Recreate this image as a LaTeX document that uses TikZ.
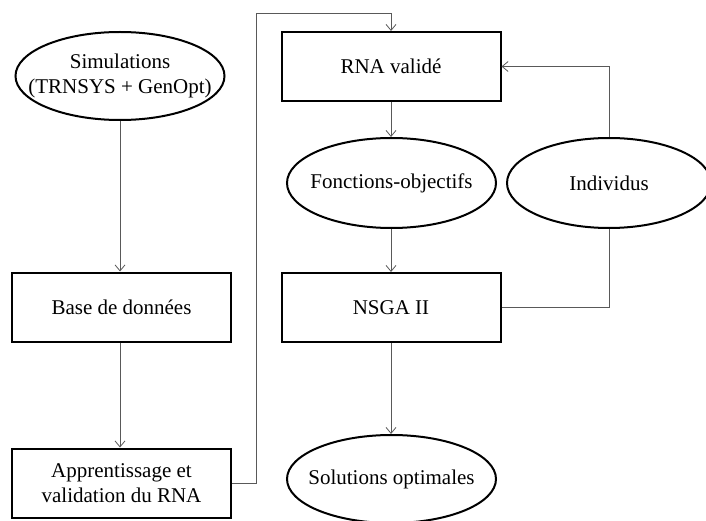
\documentclass[tikz,border=0pt]{standalone}
\usepackage{fontspec}
\setmainfont{Liberation Serif}
\usetikzlibrary{shapes.geometric,arrows.meta}
\begin{document}
\begin{tikzpicture}[x=1pt,y=-1pt,
  txt/.style={align=center,font=\fontsize{21}{25}\selectfont,inner sep=0pt},
  box/.style={txt,draw,line width=2pt,minimum width=219pt,minimum height=69pt},
  oval/.style={draw,ellipse,line width=2pt,minimum width=209pt,minimum height=88pt,inner sep=0pt},
  conn/.style={draw=black!65,line width=0.8pt,-{Straight Barb[length=6pt,width=10pt,line width=0.8pt]}},
  plain/.style={draw=black!65,line width=0.8pt}]
\useasboundingbox (0,0) rectangle (706,521);
\node[oval] (sim) at (120,76) {};
\node[txt] (simt) at (sim) {Simulations\\(TRNSYS + GenOpt)};
\node[box] (base) at (121.5,307) {Base de données};
\node[box] (app) at (121.5,483) {Apprentissage et\\validation du RNA};
\node[box] (rna) at (391,66.5) {RNA validé};
\node[oval,minimum height=90pt] (fon) at (391.5,183) {};
\node[txt] (font) at (fon) {Fonctions-objectifs};
\node[oval,minimum width=204pt,minimum height=90pt] (ind) at (609,183) {};
\node[txt] (indt) at (ind) {Individus};
\node[box] (nsga) at (391,307.5) {NSGA II};
\node[oval] (sol) at (391.5,479) {};
\node[txt] (solt) at (sol) {Solutions optimales};
\coordinate (c1) at (256,13);
\coordinate (c2) at (391,13);
\draw[conn] (sim.south) -- (sim.south |- base.north);
\draw[conn] (sim.south |- base.south) -- (sim.south |- app.north);
\draw[conn] (app.east) -| (c1) -- (c2) -- (rna.north);
\draw[conn] (rna) -- (rna |- fon.north);
\draw[conn] (rna |- fon.south) -- (nsga);
\draw[conn] (nsga) -- (nsga |- sol.north);
\draw[plain] (nsga.east) -| (ind.south);
\draw[conn] (ind.north) |- (rna.east);
\end{tikzpicture}
\end{document}
